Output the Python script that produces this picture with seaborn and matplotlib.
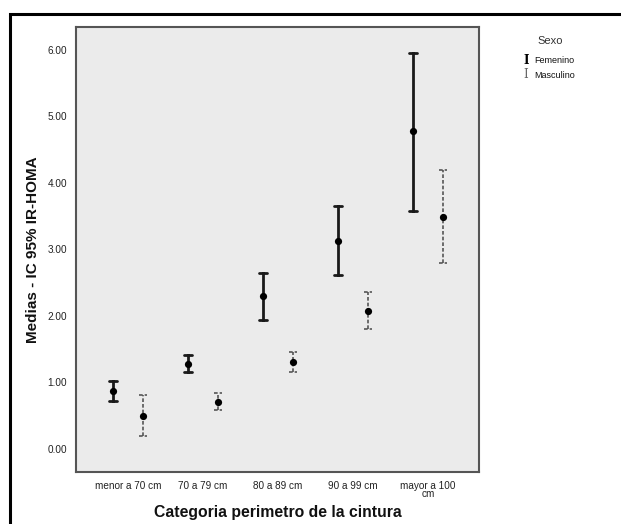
import numpy as np
import pandas as pd
import matplotlib
matplotlib.use("Agg")
import matplotlib.pyplot as plt
import seaborn as sns
from matplotlib.patches import Rectangle

categories = ["menor a 70 cm", "70 a 79 cm", "80 a 89 cm", "90 a 99 cm", "mayor a 100\ncm"]
sexes = ["Femenino", "Masculino"]
fem_mean = [0.87, 1.28, 2.29, 3.13, 4.77]
fem_low = [0.72, 1.16, 1.94, 2.61, 3.58]
fem_high = [1.02, 1.41, 2.64, 3.65, 5.95]
masc_mean = [0.50, 0.71, 1.30, 2.07, 3.49]
masc_low = [0.19, 0.58, 1.15, 1.80, 2.79]
masc_high = [0.81, 0.84, 1.45, 2.36, 4.19]
yticks = [0, 1, 2, 3, 4, 5, 6]

rows = []
for sex, lo, me, hi in [("Femenino", fem_low, fem_mean, fem_high),
                        ("Masculino", masc_low, masc_mean, masc_high)]:
    for c, a, m, b in zip(categories, lo, me, hi):
        for v in (a, m, b):
            rows.append({"cat": c, "Sexo": sex, "val": v})
df = pd.DataFrame(rows)

sns.set_style("white")
plt.rcParams["font.family"] = ["Liberation Sans", "DejaVu Sans"]

fig = plt.figure(figsize=(6.21, 5.24), dpi=100)
ax = fig.add_axes([76 / 621, 1 - 471.5 / 524, (479 - 76) / 621, (471.5 - 27) / 524])
ax.set_facecolor("#EBEBEB")

FEM_C = "#000000"
MASC_C = "#0a0a0a"
sns.pointplot(data=df, x="cat", y="val", hue="Sexo", order=categories,
              hue_order=sexes, estimator="median", errorbar=("pi", 100),
              dodge=0.4, linestyle="none", markers="o",
              capsize=0.11, palette={"Femenino": FEM_C, "Masculino": MASC_C},
              err_kws={"linewidth": 2.0}, legend=False, ax=ax)

for ln in ax.lines:
    col = matplotlib.colors.to_hex(ln.get_color())
    mk = ln.get_marker()
    if mk in (None, "None", "", " "):
        if col == MASC_C:
            ln.set_color("#555555")
            ln.set_linewidth(1.2)
            ln.set_linestyle((0, (2.2, 1.2)))
        else:
            ln.set_color("#1a1a1a")
            ln.set_linewidth(2.0)
    else:
        ln.set_markersize(5.2)
        ln.set_markeredgewidth(0)
        ln.set_markerfacecolor("#000000")
        ln.set_zorder(5)

ax.set_xlim(-0.69, 4.68)
ax.set_ylim(-0.34, 6.34)
ax.set_yticks(yticks)
ax.set_yticklabels([f"{t:.2f}" for t in yticks])
ax.tick_params(axis="both", direction="out", length=5, width=1.2, color="#444444",
               labelsize=7.2, pad=1.5, labelcolor="#222222")
for lab in ax.get_xticklabels():
    lab.set_linespacing(0.85)
for s in ax.spines.values():
    s.set_color("#555555")
    s.set_linewidth(1.5)

ax.set_xlabel("Categoria perimetro de la cintura", fontsize=11.3, fontweight="bold",
              labelpad=4, color="#111111")
ax.set_ylabel("Medias - IC 95% IR-HOMA", fontsize=11, fontweight="bold",
              labelpad=5, color="#111111")

# legend
fig.text(550 / 621, 1 - 41 / 524, "Sexo", fontsize=8, color="#333333",
         ha="center", va="center")
fig.text(526 / 621, 1 - 61 / 524, "I", fontsize=8.5, fontweight="bold",
         family="DejaVu Serif", color="#000000", ha="center", va="center")
fig.text(534 / 621, 1 - 61 / 524, "Femenino", fontsize=6.5, color="#111111",
         ha="left", va="center")
fig.text(526 / 621, 1 - 75 / 524, "I", fontsize=8.5,
         family="DejaVu Serif", color="#666666", ha="center", va="center")
fig.text(534 / 621, 1 - 75 / 524, "Masculino", fontsize=6.5, color="#111111",
         ha="left", va="center")

# outer frame
fig.patches.append(Rectangle((10 / 621, -0.2), 1.2, 1.2 - 14 / 524,
                             transform=fig.transFigure, fill=False,
                             edgecolor="black", linewidth=2.2))

fig.savefig("out.png", dpi=100, facecolor="white")
